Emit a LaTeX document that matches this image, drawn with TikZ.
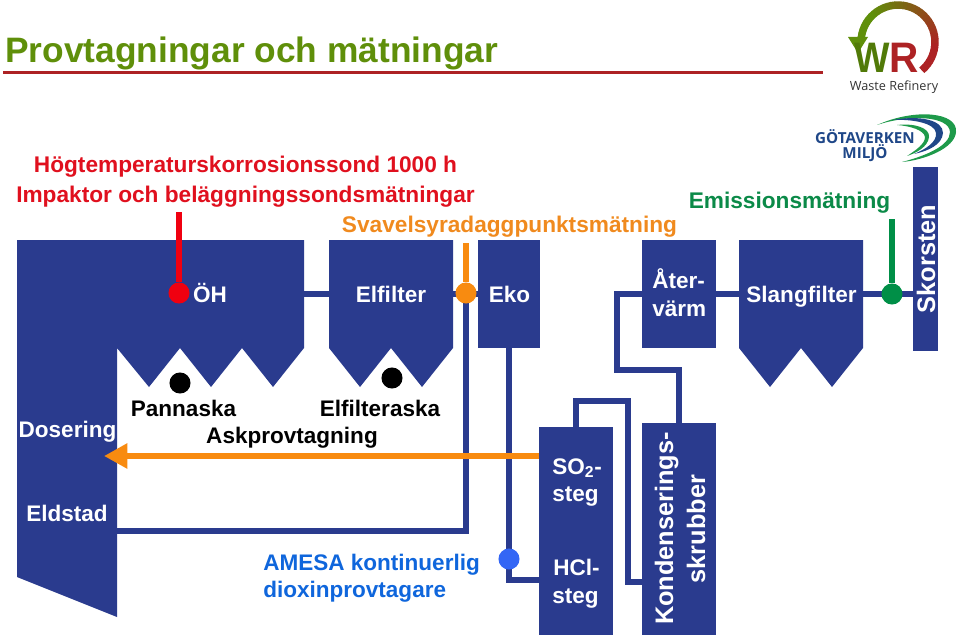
\documentclass[tikz,border=0pt]{standalone}
\usepackage{fontspec}
\setmainfont{Liberation Sans}
\newfontfamily\logofont{Open Sans}
\usetikzlibrary{arrows.meta}
\definecolor{navy}{HTML}{2A3B8E}
\definecolor{titlegreen}{HTML}{5F8F0A}
\definecolor{ulred}{HTML}{AD2224}
\definecolor{probered}{HTML}{F00010}
\definecolor{textred}{HTML}{E0101E}
\definecolor{probeorange}{HTML}{F88B10}
\definecolor{textorange}{HTML}{F08A1E}
\definecolor{probegreen}{HTML}{008F47}
\definecolor{textgreen}{HTML}{0B8A48}
\definecolor{textblue}{HTML}{0F66DC}
\definecolor{dotblue}{HTML}{3366F5}
\definecolor{logoblue}{HTML}{1F4788}
\definecolor{logogreen}{HTML}{1E9A4A}
\tikzset{
  block/.style={fill=navy,draw=none,inner sep=0pt,rectangle,text=white,font=\fontsize{16.9}{20}\selectfont\bfseries,align=left},
  pipe/.style={draw=navy,line width=4pt,line join=miter},
  wlabel/.style={text=white,inner sep=0pt,anchor=base,font=\fontsize{16.9}{20}\selectfont\bfseries},
  blabel/.style={text=black,inner sep=0pt,anchor=base,font=\fontsize{16.9}{20}\selectfont\bfseries},
  headline/.style={inner sep=0pt,anchor=base,font=\fontsize{17}{22}\selectfont\bfseries},
  bluelabel/.style={inner sep=0pt,anchor=base west,text=textblue,font=\fontsize{16.9}{20}\selectfont\bfseries},
  probe/.style={line width=5pt},
  dot/.style={circle,inner sep=0pt,minimum size=15.8pt},
}
\begin{document}
\begin{tikzpicture}[x=0.75pt,y=-0.75pt]
\useasboundingbox (0,0) rectangle (959,638);
% title
\node[inner sep=0pt,anchor=base west,text=titlegreen,font=\fontsize{26.5}{30}\selectfont\bfseries] (title) at (5,63) {Provtagningar och mätningar};
\coordinate (ulA) at (3,72.5); \coordinate (ulB) at (823,72.5);
\draw[ulred,line width=2pt] (ulA) -- (ulB);
% furnace
\fill[navy] (17,240) -- (304,240) -- (304,348) -- (273,387) -- (242,348) -- (211,387) -- (180,348) -- (149,387) -- (117,348) -- (117,617) -- (17,577) -- cycle;
\node[minimum width=187*0.75pt,minimum height=108*0.75pt,inner sep=0pt] (oh) at (210.5,294) {};
% electric filter
\fill[navy] (329,240) -- (453,240) -- (453,348) -- (422,387) -- (391,348) -- (360,387) -- (329,348) -- cycle;
\node[minimum width=124*0.75pt,minimum height=108*0.75pt,inner sep=0pt] (el) at (391,294) {};
% bag filter
\fill[navy] (739,240) -- (863,240) -- (863,348) -- (832,387) -- (801,348) -- (770,387) -- (739,348) -- cycle;
\node[minimum width=124*0.75pt,minimum height=108*0.75pt,inner sep=0pt] (slang) at (801,294) {};
% rectangular blocks
\node[block,minimum width=62*0.75pt,minimum height=108*0.75pt] (eko) at (509,294) {};
\node[block,minimum width=74*0.75pt,minimum height=108*0.75pt] (ater) at (679,294) {};
\node[block,minimum width=25*0.75pt,minimum height=184*0.75pt] (sk) at (925.5,259) {};
\node[block,minimum width=74*0.75pt,minimum height=208*0.75pt] (so) at (576,531) {};
\node[block,minimum width=74*0.75pt,minimum height=212*0.75pt] (kond) at (679,529) {};
% helper coordinates
\coordinate (fur) at (117,531);
\coordinate (tapEl) at (466,294);
\coordinate (hcl) at (539,580);
\coordinate (bendA) at (617,370);
\coordinate (bendB) at (628,401);
\coordinate (kondIn) at (642,582);
\coordinate (arrS) at (539,456);
\coordinate (arrE) at (104,456);
\coordinate (rTop) at (179,212);
\coordinate (oTop) at (466,243);
\coordinate (gTop) at (892,219);
% pipes
\draw[pipe] (oh.east) -- (el.west);
\draw[pipe] (el.east) -- (eko.west);
\draw[pipe] (tapEl) |- (fur);
\draw[pipe] (eko.south) |- (hcl);
\draw[pipe] (so.north) |- (bendB) |- (kondIn);
\draw[pipe] (kond.north) |- (bendA) |- (ater.west);
\draw[pipe] (ater.east) -- (slang.west);
\draw[pipe] (slang.east) -- (slang.east -| sk.west);
% probes
\node[dot,fill=probered] (dR) at (179,293) {};
\node[dot,fill=probeorange] (dO) at (466,293) {};
\node[dot,fill=probegreen] (dG) at (892,294) {};
\node[dot,fill=dotblue] (dB) at (509,559) {};
\node[dot,fill=black] (dP) at (180,383) {};
\node[dot,fill=black] (dE) at (392,378) {};
\draw[probe,probered] (rTop) -- (dR);
\draw[probe,probeorange] (oTop) -- (dO);
\draw[probe,probegreen] (gTop) -- (dG);
% ash arrow
\draw[probeorange,line width=4.2pt,-{Triangle[length=17.5pt,width=18pt]}] (arrS) -- (arrE);
% headlines
\node[headline,text=textred] (t1) at (245.5,172) {Högtemperaturskorrosionssond 1000 h};
\node[headline,text=textred] (t2) at (245.5,202) {Impaktor och beläggningssondsmätningar};
\node[headline,text=textorange] (t3) at (509.5,232) {Svavelsyradaggpunktsmätning};
\node[headline,text=textgreen] (t4) at (789.5,208) {Emissionsmätning};
% white labels
\node[wlabel] (lOH) at (210,302) {ÖH};
\node[wlabel] (lEl) at (391,302) {Elfilter};
\node[wlabel] (lEk) at (509.5,302) {Eko};
\node[wlabel,anchor=base west] (lAt1) at (652,288) {Åter-};
\node[wlabel,anchor=base west] (lAt2) at (652,316) {värm};
\node[wlabel] (lSl) at (801.5,302) {Slangfilter};
\node[wlabel,rotate=90,anchor=base,font=\fontsize{19}{22}\selectfont\bfseries] (lSk) at (935,259) {Skorsten};
\node[wlabel] (lDo) at (67.5,437) {Dosering};
\node[wlabel] (lEd) at (67,521) {Eldstad};
\node[wlabel,anchor=base west] (lSo1) at (552,474) {SO\textsubscript{2}-};
\node[wlabel,anchor=base west] (lSo2) at (552,501) {steg};
\node[wlabel,anchor=base west] (lHc1) at (553,575) {HCl-};
\node[wlabel,anchor=base west] (lHc2) at (552,603) {steg};
\node[wlabel,rotate=90,font=\fontsize{19}{20}\selectfont\bfseries] (lKo) at (673,528.5) {Kondenserings-};
\node[wlabel,rotate=90,font=\fontsize{19}{20}\selectfont\bfseries] (lSk2) at (705,529) {skrubber};
% black labels
\node[blabel] (lPa) at (183.5,416) {Pannaska};
\node[blabel] (lEa) at (380,416) {Elfilteraska};
\node[blabel] (lAs) at (292,443) {Askprovtagning};
% blue labels
\node[bluelabel] (lAm) at (263,570) {AMESA kontinuerlig};
\node[bluelabel] (lDi) at (263,597) {dioxinprovtagare};
% Waste Refinery logo
\foreach \a in {-50,-44,...,172}{
  \pgfmathsetmacro{\p}{min(100,max(0,(\a+10)/1.4))}
  \colorlet{arcc}{titlegreen!\p!ulred}
  \draw[arcc,line width=5.6pt] ({898+37*cos(\a)},{42-37*sin(\a)}) -- ({898+37*cos(\a+7)},{42-37*sin(\a+7)});
}
\fill[titlegreen] (848,37) -- (868,37) -- (858,53) -- cycle;
\node[inner sep=0pt,anchor=base,text=titlegreen!85!black,font=\fontsize{32}{32}\selectfont\bfseries,xscale=0.88] (lgW) at (872,73) {W};
\node[inner sep=0pt,anchor=base,text=ulred,font=\fontsize{32}{32}\selectfont\bfseries,xscale=0.95] (lgR) at (904,73) {R};
\node[inner sep=0pt,anchor=base,text=black!80,font=\logofont\fontsize{9.5}{12}\selectfont] (lgT) at (894,91) {Waste Refinery};
% Gotaverken logo
\fill[logogreen] (877,125) .. controls (915,108) and (958,112) .. (956,132) .. controls (955,148) and (925,160) .. (902,162) .. controls (925,156) and (950,146) .. (950,132) .. controls (949,116) and (910,114) .. (877,125) -- cycle;
\fill[logoblue] (893,120) .. controls (920,115) and (943,120) .. (943,133) .. controls (942,145) and (928,151) .. (914,154) .. controls (926,149) and (937,142) .. (936,133) .. controls (935,123) and (912,119) .. (893,120) -- cycle;
\fill[logogreen] (897,125) .. controls (915,123) and (930,128) .. (929,137) .. controls (928,147) and (916,153) .. (907,156) .. controls (916,150) and (925,144) .. (925,137) .. controls (924,130) and (910,126) .. (897,125) -- cycle;
\node[inner sep=0pt,anchor=base,text=logoblue,font=\logofont\fontsize{11.4}{14}\selectfont\bfseries] (lgG) at (865,143) {GÖTAVERKEN};
\node[inner sep=0pt,anchor=base,text=logoblue,font=\logofont\fontsize{11.4}{14}\selectfont\bfseries] (lgM) at (865,159) {MILJÖ};
\end{tikzpicture}
\end{document}
